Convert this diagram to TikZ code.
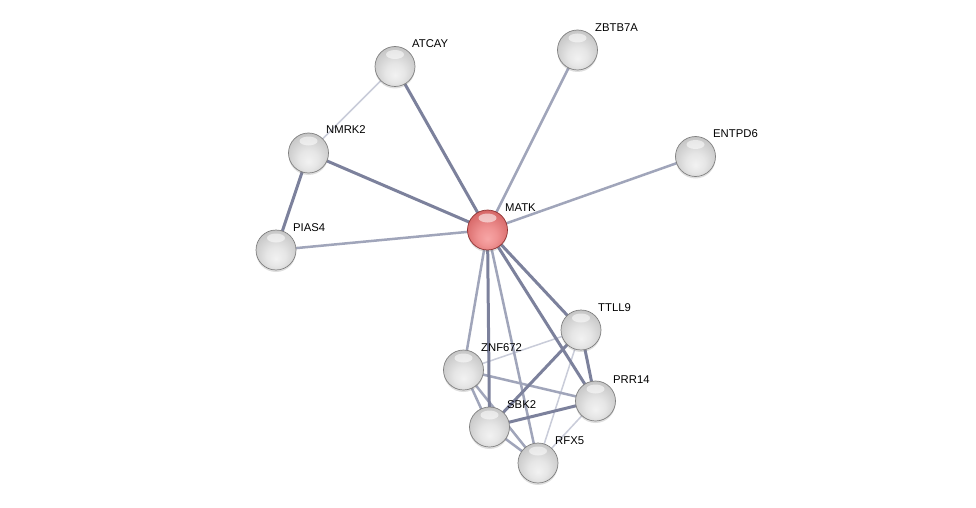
\documentclass[tikz,border=0pt]{standalone}
\usepackage{fontspec}
\setmainfont{Liberation Sans}
\usetikzlibrary{backgrounds,shadows}
\pgfdeclarelayer{canvas}
\pgfsetlayers{canvas,background,main}
\definecolor{gA}{HTML}{F2F2F2}
\definecolor{gB}{HTML}{E6E6E6}
\definecolor{gC}{HTML}{C8C8C8}
\definecolor{gD}{HTML}{B0B0B0}
\definecolor{rA}{HTML}{F7A6A6}
\definecolor{rB}{HTML}{EF9292}
\definecolor{rC}{HTML}{D86A6A}
\definecolor{rD}{HTML}{C04C4C}
\pgfdeclareradialshading{graysphere}{\pgfpoint{0bp}{-11bp}}{color(0bp)=(gA);color(12bp)=(gB);color(28bp)=(gC);color(37bp)=(gD);color(50bp)=(gD)}
\pgfdeclareradialshading{redsphere}{\pgfpoint{0bp}{-11bp}}{color(0bp)=(rA);color(12bp)=(rB);color(28bp)=(rC);color(37bp)=(rD);color(50bp)=(rD)}
\definecolor{edark}{HTML}{7C819C}
\definecolor{emid}{HTML}{A0A5BA}
\definecolor{elight}{HTML}{C9CCD9}
\tikzset{
  sph/.style={circle, minimum size=40pt, inner sep=0pt, draw=black!50, line width=0.7pt,
    shading=graysphere, drop shadow={shadow xshift=0pt, shadow yshift=-2pt, opacity=0.25},
    path picture={\fill[white,opacity=0.55] ([yshift=12pt]path picture bounding box.center) ellipse (9pt and 4.5pt);}},
  redsph/.style={sph, shading=redsphere, draw=red!45!black!80},
  lbl/.style={anchor=west, font=\fontsize{11.3}{13}\selectfont, inner sep=1pt},
  thick1/.style={edark, line width=3pt},
  mid1/.style={emid, line width=2.5pt},
  thin1/.style={elight, line width=1.5pt}
}
\begin{document}
\begin{tikzpicture}[x=1pt,y=-1pt]
\useasboundingbox (0,0) rectangle (976,508);
\begin{pgfonlayer}{canvas}
\fill[white] (0,0) rectangle (976,508);
\end{pgfonlayer}
% nodes
\node[sph] (ATCAY) at (395,66.5) {};
\node[sph] (ZBTB7A) at (577.5,50) {};
\node[sph] (ENTPD6) at (695.5,156.5) {};
\node[sph] (NMRK2) at (308.5,153) {};
\node[redsph] (MATK) at (487.5,230) {};
\node[sph] (PIAS4) at (276,250) {};
\node[sph] (TTLL9) at (581,330) {};
\node[sph] (ZNF672) at (463.5,370) {};
\node[sph] (PRR14) at (595.5,401) {};
\node[sph] (SBK2) at (489.5,427) {};
\node[sph] (RFX5) at (538,463) {};
% labels
\node[lbl] (lATCAY) at (411,44) {ATCAY};
\node[lbl] (lZBTB7A) at (594,28) {ZBTB7A};
\node[lbl] (lENTPD6) at (712,134) {ENTPD6};
\node[lbl] (lNMRK2) at (325,130) {NMRK2};
\node[lbl] (lMATK) at (504,208) {MATK};
\node[lbl] (lPIAS4) at (292,228) {PIAS4};
\node[lbl] (lTTLL9) at (597,308) {TTLL9};
\node[lbl] (lZNF672) at (480,348) {ZNF672};
\node[lbl] (lPRR14) at (612,380) {PRR14};
\node[lbl] (lSBK2) at (506,405) {SBK2};
\node[lbl] (lRFX5) at (554,441) {RFX5};
\begin{pgfonlayer}{background}
\draw[thin1] (ATCAY.center) -- (NMRK2.center);
\draw[thin1] (ZNF672.center) -- (TTLL9.center);
\draw[thin1] (TTLL9.center) -- (RFX5.center);
\draw[thin1] (PRR14.center) -- (RFX5.center);
\draw[mid1] (MATK.center) -- (ZBTB7A.center);
\draw[mid1] (MATK.center) -- (ENTPD6.center);
\draw[mid1] (MATK.center) -- (PIAS4.center);
\draw[mid1] (MATK.center) -- (ZNF672.center);
\draw[mid1] (MATK.center) -- (RFX5.center);
\draw[mid1] (ZNF672.center) -- (SBK2.center);
\draw[mid1] (ZNF672.center) -- (RFX5.center);
\draw[mid1] (ZNF672.center) -- (PRR14.center);
\draw[mid1] (SBK2.center) -- (RFX5.center);
\draw[thick1] (MATK.center) -- (ATCAY.center);
\draw[thick1] (MATK.center) -- (NMRK2.center);
\draw[thick1] (NMRK2.center) -- (PIAS4.center);
\draw[thick1] (MATK.center) -- (SBK2.center);
\draw[thick1] (MATK.center) -- (TTLL9.center);
\draw[thick1] (MATK.center) -- (PRR14.center);
\draw[thick1] (SBK2.center) -- (TTLL9.center);
\draw[thick1] (SBK2.center) -- (PRR14.center);
\draw[thick1] (TTLL9.center) -- (PRR14.center);
\end{pgfonlayer}
\end{tikzpicture}
\end{document}
